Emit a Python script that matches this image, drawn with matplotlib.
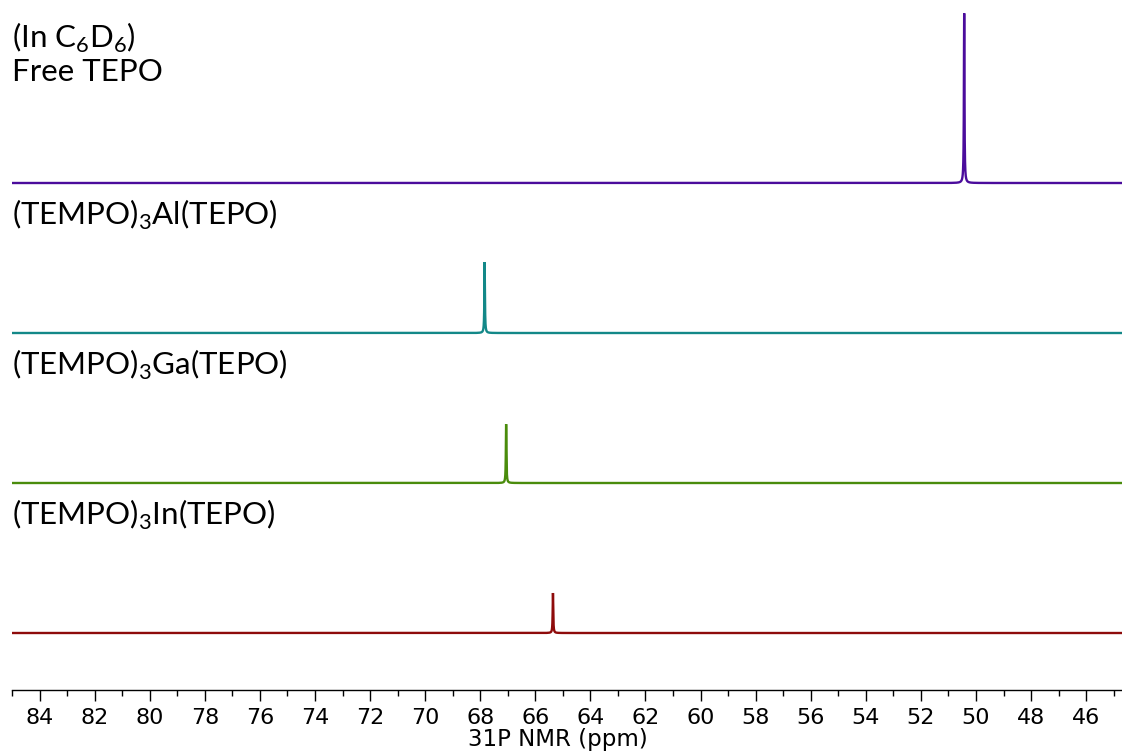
import numpy as np
import matplotlib.pyplot as plt

# -------- 31P NMR data (C6D6) --------
samples = ["Free TEPO", "(TEMPO)$_\\mathregular{3}$Al(TEPO)",
           "(TEMPO)$_\\mathregular{3}$Ga(TEPO)", "(TEMPO)$_\\mathregular{3}$In(TEPO)"]
shifts = [50.43, 67.84, 67.06, 65.36]       # ppm
heights = [170, 71, 59, 40]                 # relative intensity
colors = ["#4b0c9c", "#138888", "#4a8c0c", "#8e0b0b"]

offsets = [507, 357, 207, 57]
ppm = np.linspace(85, 44.7, 30000)
width = 0.012

fig = plt.figure(figsize=(11.22, 7.53), dpi=100)
ax = fig.add_axes([12 / 1122, 63 / 753, 1110 / 1122, 690 / 753])

for shift, h, c, off in zip(shifts, heights, colors, offsets):
    # Lorentzian line for each singlet
    y = h * width**2 / ((ppm - shift)**2 + width**2)
    ax.plot(ppm, y + off, color=c, lw=1.7, solid_joinstyle="miter")

ax.set_xlim(85, 44.7)
ax.set_ylim(0, 690)

ax.spines[["top", "left", "right"]].set_visible(False)
ax.spines["bottom"].set_linewidth(1.0)
ax.set_yticks([])
ax.set_xticks(np.arange(84, 45, -2))
ax.set_xticks(np.arange(85, 44, -1), minor=True)
ax.tick_params(axis="x", which="major", length=8, width=1, labelsize=16, pad=5)
ax.tick_params(axis="x", which="minor", length=4, width=1)

# axis title close to the bottom edge
fig.text(558 / 1122, 7 / 753, "31P NMR (ppm)", fontsize=16.5, ha="center", va="baseline")

# sample labels
lab = dict(fontsize=22.5, family="Lato", va="center", ha="left")
fig.text(12 / 1122, 1 - 38 / 753, "(In C$_\\mathregular{6}$D$_\\mathregular{6}$)", **lab)
label_y = [72, 215, 365, 515]
for s, yl in zip(samples, label_y):
    fig.text(12 / 1122, 1 - yl / 753, s, **lab)

plt.savefig("out.png", dpi=100)
